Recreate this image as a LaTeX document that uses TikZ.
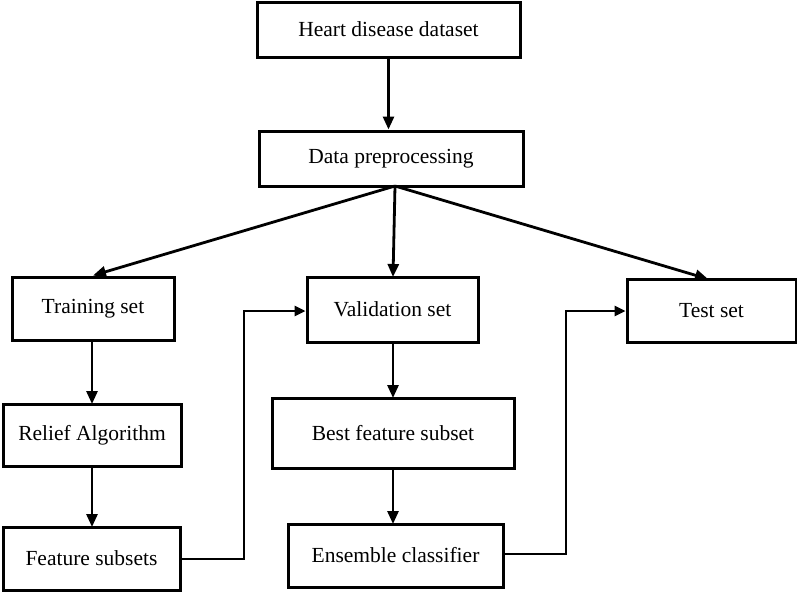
\documentclass[tikz,border=0pt]{standalone}
\usepackage{fontspec}
\setmainfont{Liberation Serif}
\usetikzlibrary{arrows.meta}
\begin{document}
\begin{tikzpicture}[x=1pt,y=-1pt,
  box/.style={draw,line width=3pt,inner sep=0pt,font=\fontsize{21.5}{25}\selectfont},
  conn/.style={line width=2.8pt,-{Triangle[length=13pt,width=11pt]}},
  link/.style={line width=2.6pt,-{Triangle[length=11pt,width=10pt]}}]
\useasboundingbox (0,0) rectangle (797,592);
\node[box,minimum width=263pt,minimum height=55pt] (heart) at (388.5,29.5) {Heart disease dataset};
\node[box,minimum width=264pt,minimum height=55pt] (prep) at (391,158.5) {Data preprocessing};
\node[box,minimum width=162pt,minimum height=63pt] (train) at (93,308.5) {Training set};
\node[box,minimum width=171pt,minimum height=65pt] (valid) at (392.5,309.5) {Validation set};
\node[box,minimum width=169pt,minimum height=63pt] (test) at (711.5,310.5) {Test set};
\node[box,minimum width=178pt,minimum height=62pt] (relief) at (92,435) {Relief Algorithm};
\node[box,minimum width=242pt,minimum height=70pt] (best) at (393,433) {Best feature subset};
\node[box,minimum width=177pt,minimum height=63pt] (feat) at (91.5,558.5) {Feature subsets};
\node[box,minimum width=215pt,minimum height=63pt] (ens) at (395.5,555.5) {Ensemble classifier};
\coordinate (split) at (395,186);
\coordinate (c1) at (244,559);
\coordinate (c2) at (244,311);
\coordinate (c3) at (566,554);
\coordinate (c4) at (566,311);
\draw[conn] (heart.south) -- (heart.south |- prep.north);
\draw[conn] (split) -- (train.north);
\draw[conn] (split) -- (393,277);
\draw[conn] (split) -- (708,279);
\draw[conn] (92,340) -- (92,404);
\draw[conn] (92,466) -- (92,527);
\draw[conn] (393,342) -- (393,398);
\draw[conn] (393,468) -- (393,524);
\draw[link] (feat.east |- c1) -- (c1) -- (c2) -- (valid.west |- c2);
\draw[link] (ens.east |- c3) -- (c3) -- (c4) -- (test.west |- c4);
\end{tikzpicture}
\end{document}
